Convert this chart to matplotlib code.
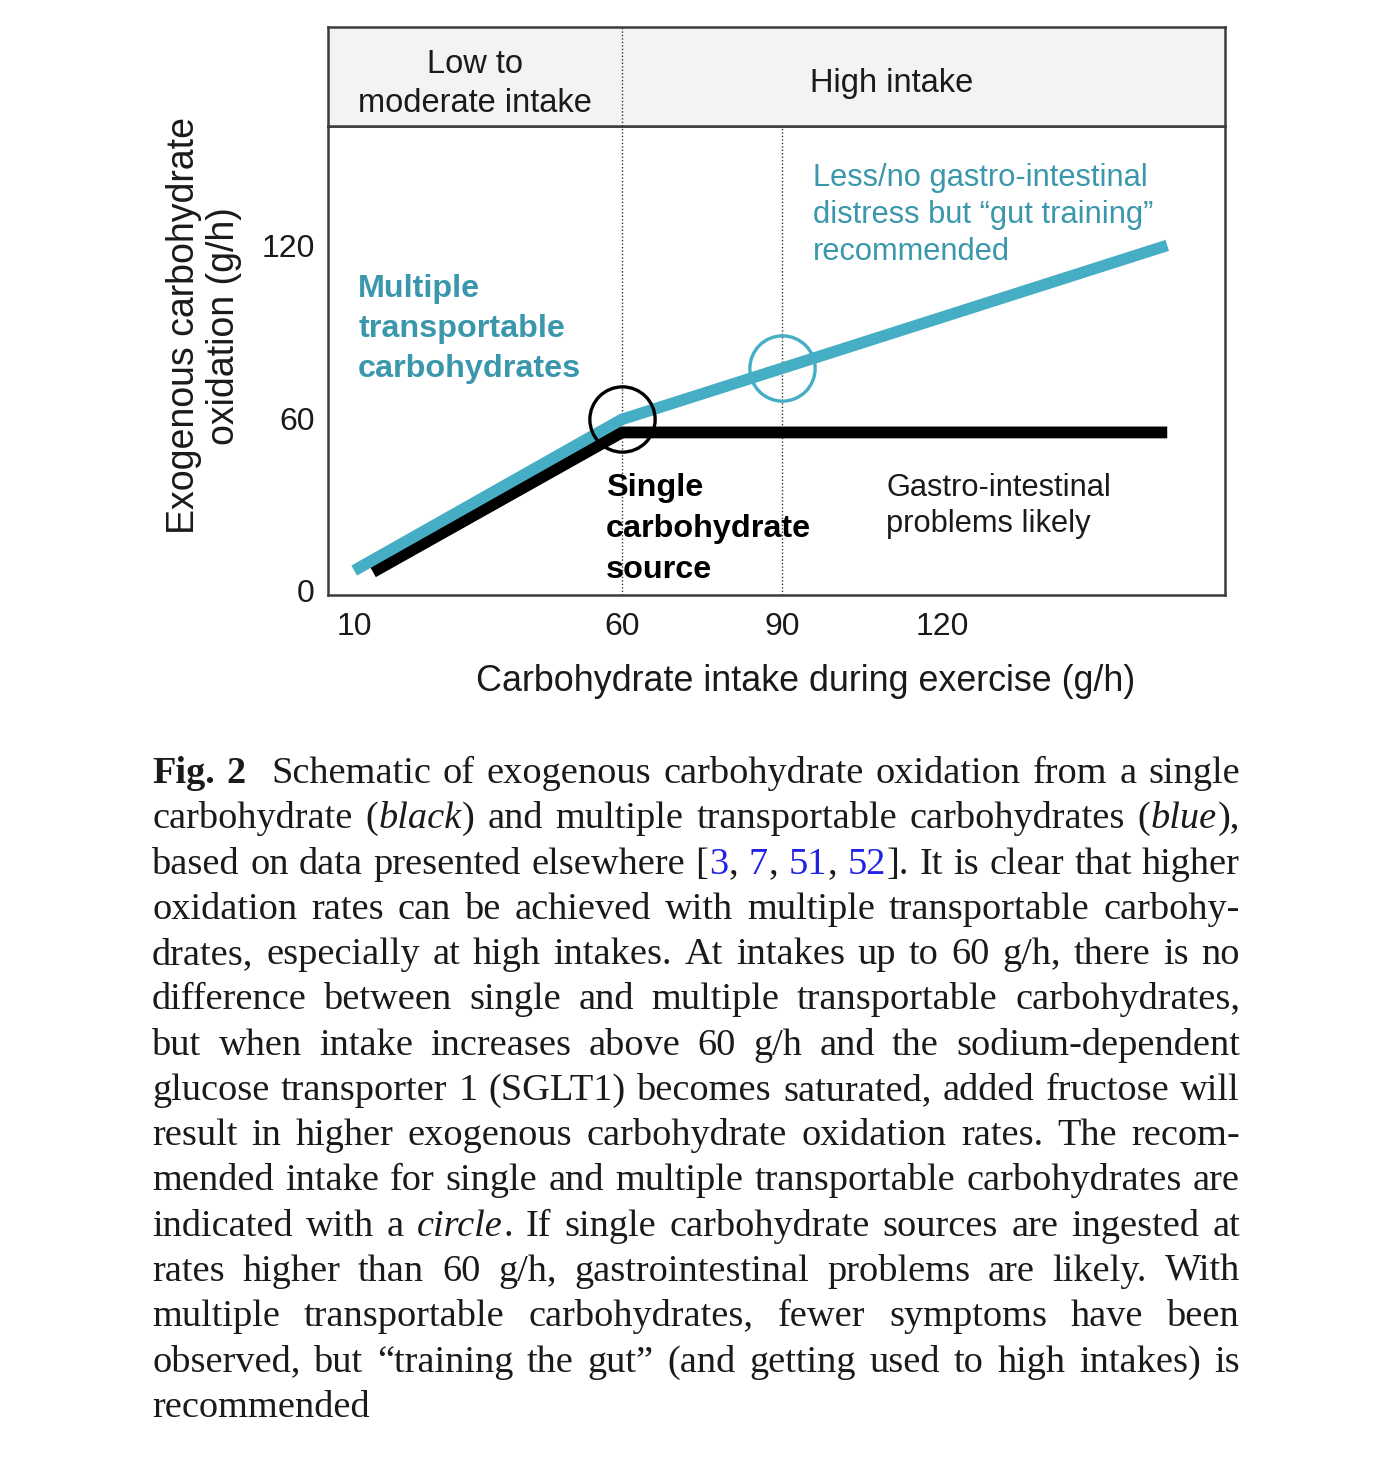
import re

import numpy as np
import matplotlib
matplotlib.use("Agg")
import matplotlib.pyplot as plt

W, H, DPI = 1396, 1466, 100

# ---- schematic data ----
intake_ticks = [10, 60, 90, 120]
oxidation_ticks = [0, 60, 120]

single_x = [13.5, 60, 162]
single_y = [6.5, 55, 55]
multi_x = [10, 60, 162]
multi_y = [7, 59.5, 120]

# recommended intakes (circles)
rec_single_x = 60
rec_multi_x = 90

zone_split = 60
high_split = 90
zone_labels = ["Low to\nmoderate intake", "High intake"]

caption_lines = [
    "**Fig. 2**  Schematic of exogenous carbohydrate oxidation from a single",
    "carbohydrate (*black*) and multiple transportable carbohydrates (*blue*),",
    "based on data presented elsewhere [{3}, {7}, {51}, {52}]. It is clear that higher",
    "oxidation rates can be achieved with multiple transportable carbohy-",
    "drates, especially at high intakes. At intakes up to 60 g/h, there is no",
    "difference between single and multiple transportable carbohydrates,",
    "but when intake increases above 60 g/h and the sodium-dependent",
    "glucose transporter 1 (SGLT1) becomes saturated, added fructose will",
    "result in higher exogenous carbohydrate oxidation rates. The recom-",
    "mended intake for single and multiple transportable carbohydrates are",
    "indicated with a *circle*. If single carbohydrate sources are ingested at",
    "rates higher than 60 g/h, gastrointestinal problems are likely. With",
    "multiple transportable carbohydrates, fewer symptoms have been",
    "observed, but \u201ctraining the gut\u201d (and getting used to high intakes) is",
    "recommended",
]

SANS = ["Liberation Sans", "DejaVu Sans"]
SERIF = ["Liberation Serif", "DejaVu Serif"]
BLUE = "#46aec4"
BLUE_TXT = "#3a97ac"
INK = "#1a1a1a"
FRAME = "#3c3c3c"

plt.rcParams["font.family"] = SANS

fig = plt.figure(figsize=(W / DPI, H / DPI), dpi=DPI)

ax = fig.add_axes([328 / W, 1 - 595 / H, 897 / W, 469 / H])
hx = fig.add_axes([328 / W, 1 - 126 / H, 897 / W, 99 / H], sharex=ax)

ax.set_xlim(5.1, 172.8)
ax.set_ylim(-1.5, 161.5)

for a in (ax, hx):
    for s in a.spines.values():
        s.set_color(FRAME)
        s.set_linewidth(1.8)

# header band (va="baseline" pins the last line of a multi-line text)
hx.set_facecolor("#f3f3f3")
hx.set_ylim(0, 1)
hx.tick_params(left=False, bottom=False, labelleft=False, labelbottom=False)
hx.axvline(zone_split, color="#333333", lw=1.0, ls=(0, (1, 1.5)))
hx.text((ax.get_xlim()[0] + zone_split) / 2, 0.141, zone_labels[0],
        ha="center", va="baseline", fontsize=23.5, color=INK, linespacing=1.33)
hx.text(110.4, 0.343, zone_labels[1],
        ha="center", va="baseline", fontsize=23.5, color=INK)

# main panel
ax.axvline(zone_split, color="#333333", lw=1.0, ls=(0, (1, 1.5)), zorder=1)
ax.axvline(high_split, color="#333333", lw=1.0, ls=(0, (1, 1.5)), zorder=1)

ax.plot(single_x, single_y, color="black", lw=8.5,
        solid_capstyle="butt", solid_joinstyle="miter", zorder=2)
ax.plot(multi_x, multi_y, color=BLUE, lw=8.3,
        solid_capstyle="butt", solid_joinstyle="miter", zorder=3)

rec_single_y = np.interp(rec_single_x, multi_x, multi_y)
rec_multi_y = np.interp(rec_multi_x, multi_x, multi_y)
ax.plot([rec_single_x], [rec_single_y], marker="o", ms=47, mfc="none",
        mec="black", mew=2.4, ls="none", zorder=5)
ax.plot([rec_multi_x], [rec_multi_y], marker="o", ms=47, mfc="none",
        mec=BLUE, mew=2.4, ls="none", zorder=5)

ax.text(10.75, 74.3, "Multiple\ntransportable\ncarbohydrates", color=BLUE_TXT,
        fontsize=23.3, fontweight="bold", va="baseline", ha="left", linespacing=1.44)
ax.text(57.1, 4.35, "Single\ncarbohydrate\nsource", color="black",
        fontsize=23.3, fontweight="bold", va="baseline", ha="left", linespacing=1.49)
ax.text(109.5, 20.3, "Gastro-intestinal\nproblems likely", color=INK,
        fontsize=22.2, va="baseline", ha="left", linespacing=1.29)
ax.text(95.8, 115.0,
        "Less/no gastro-intestinal\ndistress but \u201cgut training\u201d\nrecommended",
        color=BLUE_TXT, fontsize=22.2, va="baseline", ha="left", linespacing=1.29)

ax.set_xticks(intake_ticks)
ax.set_yticks(oxidation_ticks)
ax.tick_params(length=0, labelsize=23, labelcolor=INK)
ax.tick_params(axis="x", pad=12)
ax.tick_params(axis="y", pad=9.4)

ax.set_xlabel("Carbohydrate intake during exercise (g/h)", fontsize=25.8, color=INK)
ax.xaxis.set_label_coords((806 - 328) / 897, (595 - 664) / 469)
ax.set_ylabel("Exogenous carbohydrate\noxidation (g/h)", fontsize=27, color=INK,
              linespacing=1.15)
ax.yaxis.set_label_coords((242 - 328) / 897, (595 - 326) / 469)


# ---- justified caption ----
def words_of(line):
    words, extra = [[]], [0]
    for part in re.split(r"(\*\*.+?\*\*|\*.+?\*|\{.+?\})", line):
        if not part:
            continue
        if part.startswith("**"):
            style, txt = "bold", part[2:-2]
        elif part.startswith("*"):
            style, txt = "italic", part[1:-1]
        elif part.startswith("{"):
            style, txt = "link", part[1:-1]
        else:
            style, txt = "normal", part
        pieces = txt.split(" ")
        for k, p in enumerate(pieces):
            if k > 0:
                if words[-1]:
                    words.append([])
                    extra.append(0)
                else:
                    extra[-1] += 1
            if p:
                words[-1].append((p, style))
    if not words[-1]:
        words.pop()
        extra.pop()
    return words, extra


STYLE = {
    "normal": dict(color=INK),
    "italic": dict(color=INK, style="italic"),
    "bold": dict(color=INK, weight="bold"),
    "link": dict(color="#2222e6"),
}
CAP_SIZE = 27.6
left, right = 152, 1240
base0, step = 783, 45.27
renderer = fig.canvas.get_renderer()


def place(items, extra_px, gap, y):
    x = left
    for k, segs in enumerate(items):
        x += extra_px[k]
        for t, w in segs:
            t.set_position((x / W, y))
            x += w + 0.6
        x += gap


for i, line in enumerate(caption_lines):
    words, extra = words_of(line)
    items = []
    for w in words:
        segs = []
        for txt, style in w:
            t = fig.text(0, 0, txt, family=SERIF, fontsize=CAP_SIZE,
                         va="baseline", ha="left", **STYLE[style])
            segs.append((t, t.get_window_extent(renderer).width))
        items.append(segs)
    widths = [sum(s[1] for s in segs) for segs in items]
    em = CAP_SIZE * DPI / 72
    extra_px = [e * 0.35 * em for e in extra]
    ngaps = len(items) - 1
    justify = i < len(caption_lines) - 1 and ngaps > 0
    if justify:
        gap = (right - left - sum(widths) - sum(extra_px)) / ngaps
    else:
        gap = 0.25 * em
    y = 1 - (base0 + i * step) / H
    place(items, extra_px, gap, y)
    if justify:
        # correct for any difference between measured and drawn extents
        for _ in range(2):
            x1 = items[-1][-1][0].get_window_extent(renderer).x1
            gap += (right - x1) / ngaps
            place(items, extra_px, gap, y)

fig.savefig("out.png", dpi=DPI)
